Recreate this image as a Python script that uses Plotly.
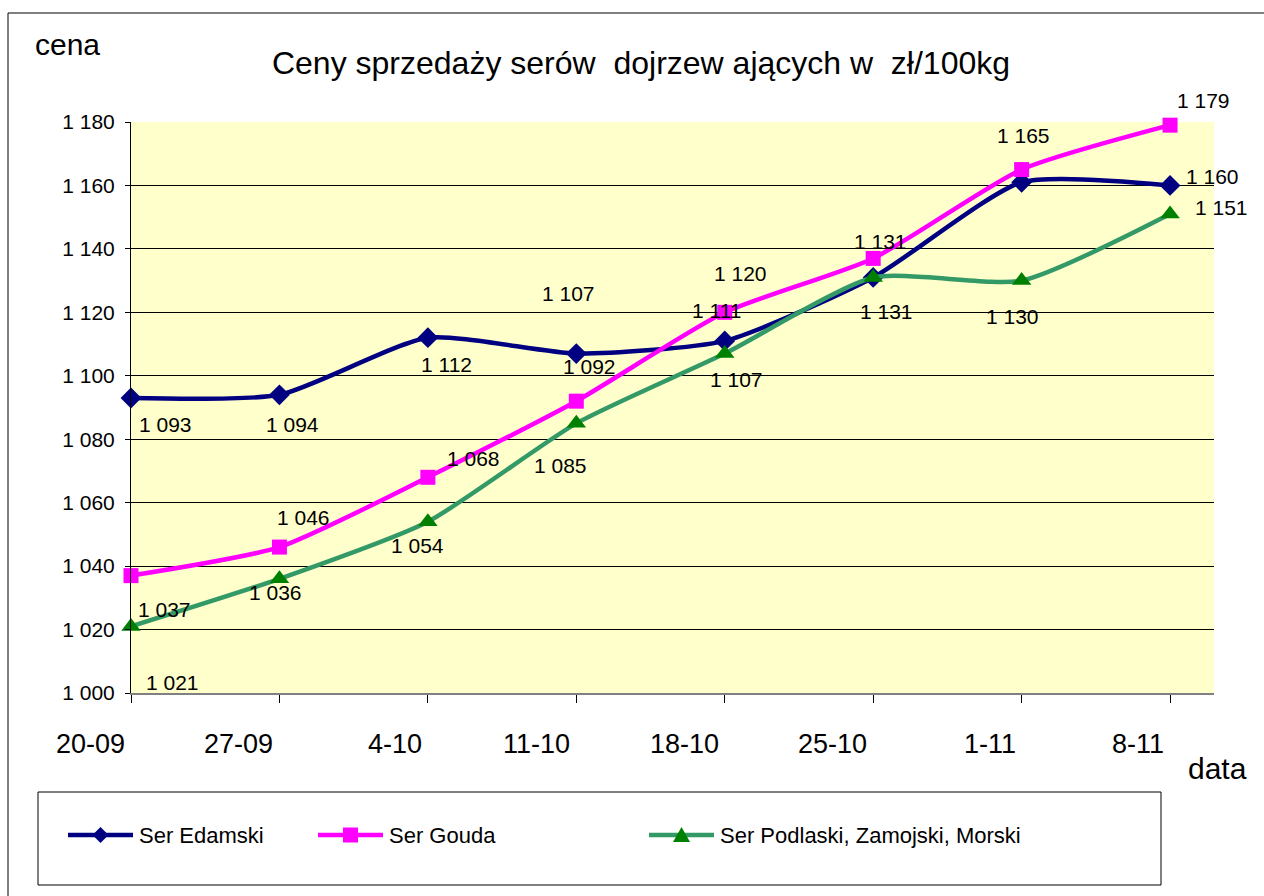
import plotly.graph_objects as go

# ---------------- data ----------------
dates = ["20-09", "27-09", "4-10", "11-10", "18-10", "25-10", "1-11", "8-11"]
edamski = [1093, 1094, 1112, 1107, 1111, 1131, 1161, 1160]
gouda = [1037, 1046, 1068, 1092, 1120, 1137, 1165, 1179]
podlaski = [1021, 1036, 1054, 1085, 1107, 1131, 1130, 1151]
series_names = ["Ser Edamski", "Ser Gouda", "Ser Podlaski, Zamojski, Morski"]
title_text = "Ceny sprzedaży serów  dojrzew ających w  zł/100kg"
y_title = "cena"
x_title = "data"

# ---------------- styling ----------------
W, H = 1264, 896
L, R, T, B = 131, 1214, 122, 693  # plot area in pixels
FONT = "Liberation Sans, Arial, sans-serif"
colors_line = ["#000080", "#FF00FF", "#339966"]
colors_marker = ["#000080", "#FF00FF", "#008000"]
symbols = ["diamond", "square", "triangle-up"]
msizes = [16, 15, 17]

# label offsets in pixels (dx right, dy down); None -> label not shown
label_offsets = [
    [(34, 27), (13, 30), (19, 27), (-8, -60), (-8, -30), (7, -36), None, (42, -9)],
    [(33, 34), (24, -30), (46, -19), (13, -35), (16, -39), None, (2, -34), (33, -25)],
    [(41, 56), (-4, 14), (-10, 24), (-16, 42), (12, 26), (13, 34), (-9, 36), (51, -6)],
]


def px(x):
    return (x - L) / (R - L)


def py(y):
    return (B - y) / (B - T)


xs = list(range(len(dates)))
fig = go.Figure()
all_series = [edamski, gouda, podlaski]
for i, vals in enumerate(all_series):
    fig.add_trace(go.Scatter(
        x=xs, y=vals, name=series_names[i], mode="lines+markers",
        line=dict(color=colors_line[i], width=4.5, shape="spline", smoothing=0.6),
        marker=dict(symbol=symbols[i], size=msizes[i], color=colors_marker[i]),
        showlegend=False, cliponaxis=False,
    ))

annotations = []
for i, vals in enumerate(all_series):
    for j, v in enumerate(vals):
        off = label_offsets[i][j]
        if off is None:
            continue
        annotations.append(dict(
            x=xs[j], y=v, xref="x", yref="y", text=f"{v:,}".replace(",", " "),
            showarrow=False, xshift=off[0], yshift=-off[1],
            xanchor="center", yanchor="middle",
            font=dict(family=FONT, size=21, color="black"),
        ))

# category labels (right-aligned just left of each tick, as in the original)
for j, d in enumerate(dates):
    annotations.append(dict(x=xs[j], y=py(744), xref="x", yref="paper", text=d,
                            xanchor="right", yanchor="middle", xshift=-4, showarrow=False,
                            font=dict(family=FONT, size=27, color="black")))

# axis titles
annotations.append(dict(x=px(67), y=py(45), xref="paper", yref="paper", text=y_title,
                        xanchor="center", yanchor="middle", showarrow=False,
                        font=dict(family=FONT, size=30, color="black")))
annotations.append(dict(x=px(1217), y=py(768), xref="paper", yref="paper", text=x_title,
                        xanchor="center", yanchor="middle", showarrow=False,
                        font=dict(family=FONT, size=30, color="black")))

# frame and custom legend
shapes = []
shapes.append(dict(type="rect", xref="paper", yref="paper", x0=px(8), y0=py(13), x1=px(1300),
                   y1=py(940), line=dict(color="black", width=1), fillcolor="rgba(0,0,0,0)",
                   layer="below"))
shapes.append(dict(type="rect", xref="paper", yref="paper", x0=px(38), y0=py(792), x1=px(1161),
                   y1=py(885), line=dict(color="black", width=1), fillcolor="white"))
leg_starts = [68, 318, 649]
leg_y = 835
for i, xs0 in enumerate(leg_starts):
    shapes.append(dict(type="line", xref="paper", yref="paper", x0=px(xs0), x1=px(xs0 + 65),
                       y0=py(leg_y), y1=py(leg_y), line=dict(color=colors_line[i], width=4.5)))
    cx = xs0 + 32.5
    if symbols[i] == "diamond":
        pts = [(cx - 8, leg_y), (cx, leg_y - 8), (cx + 8, leg_y), (cx, leg_y + 8)]
    elif symbols[i] == "square":
        pts = [(cx - 7.5, leg_y - 7.5), (cx + 7.5, leg_y - 7.5), (cx + 7.5, leg_y + 7.5), (cx - 7.5, leg_y + 7.5)]
    else:
        pts = [(cx - 8.5, leg_y + 7), (cx + 8.5, leg_y + 7), (cx, leg_y - 8)]
    path = "M" + " L".join(f"{px(a):.5f},{py(b):.5f}" for a, b in pts) + " Z"
    shapes.append(dict(type="path", xref="paper", yref="paper", path=path,
                       fillcolor=colors_marker[i], line=dict(color=colors_marker[i], width=0)))
    annotations.append(dict(x=px(xs0 + 69), y=py(leg_y), xref="paper", yref="paper",
                            xanchor="left", yanchor="middle", text=series_names[i], showarrow=False,
                            font=dict(family=FONT, size=22, color="black")))

fig.update_layout(
    width=W, height=H,
    margin=dict(l=L, r=W - R, t=T, b=H - B, pad=0),
    paper_bgcolor="white", plot_bgcolor="#FFFFCC",
    separators=", ",
    title=dict(text=title_text, x=641 / W, y=1 - 63 / H, xref="container", yref="container",
               xanchor="center", yanchor="middle",
               font=dict(family=FONT, size=32, color="black")),
    xaxis=dict(range=[0, 7.296], tickvals=xs, showticklabels=False, showgrid=False,
               zeroline=False, showline=True, linecolor="#808080", linewidth=2,
               ticks="outside", ticklen=8, tickcolor="black", tickwidth=1),
    yaxis=dict(range=[1000, 1180], dtick=20, tick0=1000, tickformat=",d", showgrid=True,
               gridcolor="black", gridwidth=1, zeroline=False, showline=True, linecolor="black",
               linewidth=1, ticks="outside", ticklen=5, tickcolor="black", ticklabelstandoff=6,
               tickfont=dict(family=FONT, size=21, color="black")),
    shapes=shapes, annotations=annotations, showlegend=False,
)

fig.write_html("out.html", config={"displayModeBar": False},
               post_script="document.body.style.margin='0px';")
